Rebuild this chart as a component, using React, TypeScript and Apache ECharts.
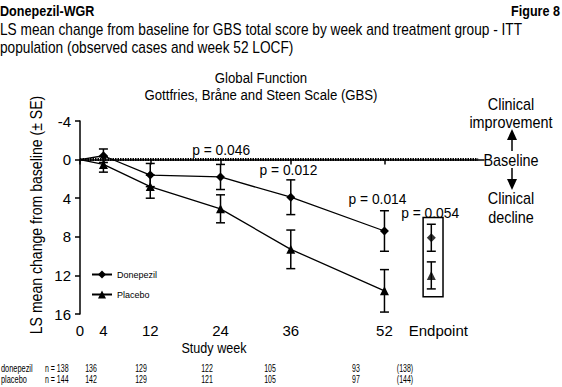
import React, { useEffect, useRef } from "react";
import * as echarts from "echarts";

const FONT = "'Liberation Sans', Arial, sans-serif";

const weeks = [0, 4, 12, 24, 36, 52];
const endpointX = 60;
const donepezilMean = [0, -0.4, 1.6, 1.8, 3.9, 7.4];
const donepezilSE = [0, 0.7, 1.2, 1.3, 1.8, 2.1];
const placeboMean = [0, 0.5, 2.8, 5.1, 9.3, 13.6];
const placeboSE = [0, 0.8, 1.2, 1.45, 2.0, 2.2];
const endpointDonepezil = { mean: 8.1, se: 1.4 };
const endpointPlacebo = { mean: 12.0, se: 1.4 };
const xTickValues = [0, 4, 12, 24, 36, 52];
const xLabelValues = [0, 4, 12, 24, 36, 52, 60];
const yMin = -4;
const yMax = 16;
const yInterval = 4;
const pAnnotations = [
  { text: "p = 0.046", x: 24.1, y: -1.0 },
  { text: "p = 0.012", x: 35.6, y: 1.1 },
  { text: "p = 0.014", x: 50.8, y: 4.1 },
  { text: "p = 0.054", x: 59.8, y: 5.5 },
];
const endpointBox = { x1: 58.6, x2: 62, y1: 6.0, y2: 14.2 };
const baselineEnd = 68;
const nGroups = ["donepezil", "placebo"];
const nDonepezil = ["n = 138", "136", "129", "122", "105", "93", "(138)"];
const nPlacebo = ["n = 144", "142", "129", "121", "105", "97", "(144)"];

// layout (pixels)
const nColumnsX = [45, 91, 141, 207, 270, 356, 405];
const nRowsY = [369, 380];

type TxtOpts = {
  size?: number;
  align?: string;
  vAlign?: string;
  bold?: boolean;
  sx?: number;
  rot?: number;
};

function txt(text: string, x: number, y: number, o: TxtOpts = {}) {
  return {
    type: "text",
    x,
    y,
    scaleX: o.sx ?? 0.84,
    rotation: o.rot ?? 0,
    style: {
      text,
      fill: "#000",
      fontFamily: FONT,
      fontSize: o.size ?? 15,
      fontWeight: o.bold ? "bold" : "normal",
      textAlign: o.align ?? "left",
      textVerticalAlign: o.vAlign ?? "middle",
    },
  };
}

export default function App() {
  const ref = useRef<HTMLDivElement>(null);
  useEffect(() => {
    document.body.style.margin = "0";
    if (!ref.current) return;
    const chart = echarts.init(ref.current, undefined, { renderer: "svg" });

    const errStyle = { stroke: "#000", lineWidth: 1.5 };
    const errRender = (params: any, api: any) => {
      const x = api.value(0);
      const m = api.value(1);
      const se = api.value(2);
      const top = api.coord([x, m - se]);
      const bot = api.coord([x, m + se]);
      const hw = 4.5;
      return {
        type: "group",
        children: [
          { type: "line", shape: { x1: top[0], y1: top[1], x2: bot[0], y2: bot[1] }, style: errStyle },
          { type: "line", shape: { x1: top[0] - hw, y1: top[1], x2: top[0] + hw, y2: top[1] }, style: errStyle },
          { type: "line", shape: { x1: bot[0] - hw, y1: bot[1], x2: bot[0] + hw, y2: bot[1] }, style: errStyle },
        ],
      };
    };

    const errData: number[][] = [];
    weeks.forEach((w, i) => {
      if (donepezilSE[i] > 0) errData.push([w, donepezilMean[i], donepezilSE[i]]);
      if (placeboSE[i] > 0) errData.push([w, placeboMean[i], placeboSE[i]]);
    });
    errData.push([endpointX, endpointDonepezil.mean, endpointDonepezil.se]);
    errData.push([endpointX, endpointPlacebo.mean, endpointPlacebo.se]);

    const lineData = (means: number[]) =>
      weeks.map((w, i) => (i === 0 ? { value: [w, means[i]], symbol: "none" } : [w, means[i]]));

    const nTexts: any[] = [];
    [nDonepezil, nPlacebo].forEach((row, r) => {
      nTexts.push(txt(nGroups[r], 1, nRowsY[r], { size: 10, sx: 0.74 }));
      row.forEach((t, i) => {
        nTexts.push(txt(t, nColumnsX[i], nRowsY[r], { size: 10, sx: 0.7, align: i === 0 ? "left" : "center" }));
      });
    });

    const option: any = {
      animation: false,
      textStyle: { fontFamily: FONT, color: "#000" },
      grid: { left: 80, right: 78, top: 121, bottom: 73, containLabel: false },
      legend: {
        data: ["Donepezil", "Placebo"],
        orient: "vertical",
        left: 86,
        top: 265,
        itemWidth: 20,
        itemHeight: 10,
        itemGap: 11,
        textStyle: { fontSize: 9, color: "#000", fontFamily: FONT },
      },
      xAxis: {
        type: "value",
        min: 0,
        max: 69,
        splitLine: { show: false },
        axisLine: { lineStyle: { color: "#000", width: 1.5 } },
        axisTick: { customValues: xTickValues, length: 5, lineStyle: { color: "#000", width: 1.5 } },
        axisLabel: {
          customValues: xLabelValues,
          fontSize: 15,
          color: "#000",
          margin: 9,
          fontFamily: FONT,
          formatter: (v: number) => (v === endpointX ? "{ep|Endpoint}" : String(v)),
          rich: { ep: { fontSize: 15, fontFamily: FONT, color: "#000", padding: [0, 0, 0, 14] } },
        },
      },
      yAxis: {
        type: "value",
        inverse: true,
        min: yMin,
        max: yMax,
        interval: yInterval,
        splitLine: { show: false },
        axisLine: { show: true, lineStyle: { color: "#000", width: 1.5 } },
        axisTick: { show: true, length: 5, lineStyle: { color: "#000", width: 1.5 } },
        axisLabel: { fontSize: 15, color: "#000", margin: 9, fontFamily: FONT },
      },
      graphic: [
        txt("Donepezil-WGR", 0, 11, { bold: true, size: 15 }),
        txt("Figure 8", 560, 11, { bold: true, size: 15, align: "right" }),
        txt("LS mean change from baseline for GBS total score by week and treatment group - ITT", 0, 30, { size: 16, sx: 0.855 }),
        txt("population (observed cases and week 52 LOCF)", 0, 48, { size: 16, sx: 0.855 }),
        txt("Global Function", 261, 78, { align: "center", sx: 0.88 }),
        txt("Gottfries, Bråne and Steen Scale (GBS)", 261, 95, { align: "center", sx: 0.88 }),
        txt("LS mean change from baseline (± SE)", 36, 215, { align: "center", rot: Math.PI / 2, size: 16, sx: 0.88 }),
        txt("Study week", 214, 348, { align: "center" }),
        txt("Clinical", 511, 104, { align: "center", size: 16, sx: 0.9 }),
        txt("improvement", 511, 122, { align: "center", size: 16, sx: 0.9 }),
        txt("Baseline", 511, 160, { align: "center", size: 16, sx: 0.9 }),
        txt("Clinical", 511, 198, { align: "center", size: 16, sx: 0.9 }),
        txt("decline", 511, 217, { align: "center", size: 16, sx: 0.9 }),
        { type: "line", shape: { x1: 512, y1: 151, x2: 512, y2: 136 }, style: { stroke: "#000", lineWidth: 1.5 } },
        { type: "polygon", shape: { points: [[507, 140], [517, 140], [512, 129]] }, style: { fill: "#000" } },
        { type: "line", shape: { x1: 512, y1: 168, x2: 512, y2: 183 }, style: { stroke: "#000", lineWidth: 1.5 } },
        { type: "polygon", shape: { points: [[507, 179], [517, 179], [512, 190]] }, style: { fill: "#000" } },
        ...nTexts,
      ],
      series: [
        {
          name: "Donepezil",
          type: "line",
          data: lineData(donepezilMean),
          symbol: "diamond",
          symbolSize: 9,
          color: "#000",
          lineStyle: { color: "#000", width: 1.3 },
          itemStyle: { color: "#000" },
          z: 3,
          markLine: {
            silent: true,
            symbol: "none",
            label: { show: false },
            lineStyle: { color: "#000", type: [1.5, 1], width: 3 },
            data: [[{ coord: [0, 0] }, { coord: [baselineEnd, 0] }]],
          },
        },
        {
          name: "Placebo",
          type: "line",
          data: lineData(placeboMean),
          symbol: "triangle",
          symbolSize: 9,
          color: "#000",
          lineStyle: { color: "#000", width: 1.3 },
          itemStyle: { color: "#000" },
          z: 3,
        },
        {
          type: "scatter",
          data: [[endpointX, endpointDonepezil.mean]],
          symbol: "diamond",
          symbolSize: 9,
          itemStyle: { color: "#000" },
          z: 3,
        },
        {
          type: "scatter",
          data: [[endpointX, endpointPlacebo.mean]],
          symbol: "triangle",
          symbolSize: 9,
          itemStyle: { color: "#000" },
          z: 3,
        },
        {
          type: "custom",
          renderItem: errRender,
          data: errData,
          z: 2,
        },
        {
          type: "custom",
          data: [[endpointBox.x1, endpointBox.y1, endpointBox.x2, endpointBox.y2]],
          renderItem: (params: any, api: any) => {
            const a = api.coord([api.value(0), api.value(1)]);
            const b = api.coord([api.value(2), api.value(3)]);
            return {
              type: "rect",
              shape: { x: a[0], y: a[1], width: b[0] - a[0], height: b[1] - a[1] },
              style: { fill: "none", stroke: "#000", lineWidth: 1.5 },
            };
          },
          z: 1,
        },
        {
          type: "custom",
          data: pAnnotations.map((p) => [p.x, p.y]),
          renderItem: (params: any, api: any) => {
            const c = api.coord([api.value(0), api.value(1)]);
            return {
              type: "text",
              x: c[0],
              y: c[1],
              scaleX: 0.92,
              style: {
                text: pAnnotations[params.dataIndex].text,
                fontSize: 15,
                fontFamily: FONT,
                fill: "#000",
                align: "center",
                verticalAlign: "middle",
              },
            };
          },
          z: 4,
        },
      ],
    };
    chart.setOption(option);
    return () => chart.dispose();
  }, []);
  return <div ref={ref} style={{ width: 562, height: 387 }} />;
}
